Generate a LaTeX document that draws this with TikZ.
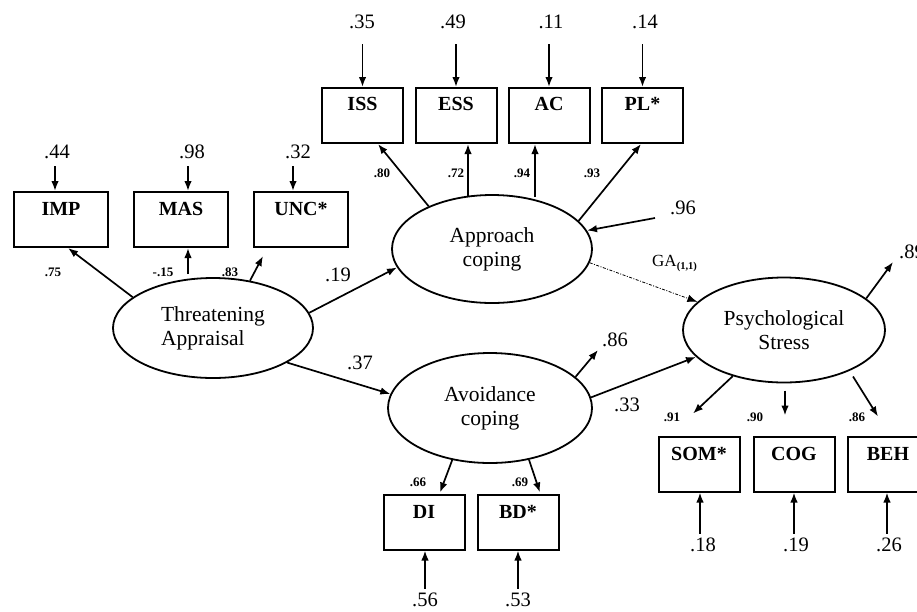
\documentclass[tikz,border=0pt]{standalone}
\usepackage{fontspec}
\setmainfont{Liberation Serif}
\usetikzlibrary{shapes.geometric, arrows.meta, calc}

\begin{document}
\begin{tikzpicture}[x=1pt, y=-1pt,
  obs/.style={draw, line width=2pt, minimum width=81pt, minimum height=55pt, inner sep=0pt},
  obswide/.style={obs, minimum width=94pt},
  lat/.style={draw, ellipse, line width=1.8pt, inner sep=0pt, align=center,
              font=\fontsize{21.5}{24}\selectfont},
  obslab/.style={font=\fontsize{20}{22}\selectfont\bfseries, inner sep=0pt},
  errlab/.style={font=\fontsize{20.5}{22}\selectfont, inner sep=0pt},
  loadlab/.style={font=\fontsize{13}{14}\selectfont\bfseries, inner sep=0pt},
  ar/.style={line width=1.7pt, -{Latex[length=10pt,width=7.5pt]}},
  dotar/.style={line width=0.8pt, dash pattern=on 3pt off 1.5pt on 1pt off 1.5pt,
                -{Latex[length=10pt,width=7.5pt]}}
]
\useasboundingbox (0,0) rectangle (917,611);
\clip (0,0) rectangle (917,611);

% ---------- observed boxes ----------
\node[obswide] (imp) at (61,219.5) {};
\node[obswide] (mas) at (181,219.5) {};
\node[obswide] (unc) at (301,219.5) {};
\node[obs] (iss) at (362.5,115.5) {};
\node[obs] (ess) at (456,115.5) {};
\node[obs] (ac)  at (549,115.5) {};
\node[obs] (pl)  at (642.5,115.5) {};
\node[obs] (di)  at (424,522) {};
\node[obs] (bd)  at (518,522) {};
\node[obs] (som) at (699,464) {};
\node[obs] (cog) at (794,464) {};
\node[obs] (beh) at (888,464) {};

\node[obslab] (impT) at ($(imp.north)+(0,18)$) {IMP};
\node[obslab] (masT) at ($(mas.north)+(0,18)$) {MAS};
\node[obslab] (uncT) at ($(unc.north)+(0,18)$) {UNC*};
\node[obslab] (issT) at ($(iss.north)+(0,17)$) {ISS};
\node[obslab] (essT) at ($(ess.north)+(0,17)$) {ESS};
\node[obslab] (acT)  at ($(ac.north)+(0,17)$) {AC};
\node[obslab] (plT)  at ($(pl.north)+(0,17)$) {PL*};
\node[obslab] (diT)  at ($(di.north)+(0,18)$) {DI};
\node[obslab] (bdT)  at ($(bd.north)+(0,18)$) {BD*};
\node[obslab] (somT) at ($(som.north)+(0,18)$) {SOM*};
\node[obslab] (cogT) at ($(cog.north)+(0,18)$) {COG};
\node[obslab] (behT) at ($(beh.north)+(0,18)$) {BEH};

% ---------- latent ellipses ----------
\node[lat, align=left, minimum width=200pt, minimum height=100pt] (thr) at (213,328) {Threatening\\Appraisal};
\node[lat, minimum width=200pt, minimum height=108pt] (app) at (492,249) {Approach\\coping};
\node[lat, minimum width=204pt, minimum height=110pt] (avo) at (490,408) {Avoidance\\coping};
\node[lat, minimum width=202pt, minimum height=105pt] (psy) at (784,330) {Psychological\\Stress};

% ---------- error terms (top rows) ----------
\node[errlab] (e44) at (57,152) {.44};
\node[errlab] (e98) at (192,152) {.98};
\node[errlab] (e32) at (298,152) {.32};
\draw[ar] ($(imp.north)+(-6,-25)$) -- ($(imp.north)+(-6,0)$);
\draw[ar] ($(mas.north)+(7,-25)$) -- ($(mas.north)+(7,0)$);
\draw[ar] ($(unc.north)+(-8,-25)$) -- ($(unc.north)+(-8,0)$);

\node[errlab] (e35) at (362,22) {.35};
\node[errlab] (e49) at (453,22) {.49};
\node[errlab] (e11) at (551,22) {.11};
\node[errlab] (e14) at (645,22) {.14};
\draw[ar] ($(iss.north)+(0,-43)$) -- (iss.north);
\draw[ar] ($(ess.north)+(0,-43)$) -- (ess.north);
\draw[ar] ($(ac.north)+(0,-43)$) -- (ac.north);
\draw[ar] ($(pl.north)+(0,-43)$) -- (pl.north);

% ---------- error terms (bottom rows) ----------
\node[errlab] (e56) at (425,600) {.56};
\node[errlab] (e53) at (518,600) {.53};
\draw[ar] ($(di.south)+(1,38)$) -- ($(di.south)+(1,0)$);
\draw[ar] ($(bd.south)+(0,38)$) -- (bd.south);

\node[errlab] (e18) at (703,545) {.18};
\node[errlab] (e19b) at (796,545) {.19};
\node[errlab] (e26) at (889,545) {.26};
\draw[ar] ($(som.south)+(1,41)$) -- ($(som.south)+(1,0)$);
\draw[ar] ($(cog.south)+(0,41)$) -- (cog.south);
\draw[ar] ($(beh.south)+(-1,41)$) -- ($(beh.south)+(-1,0)$);

% ---------- loadings: Threatening Appraisal ----------
\draw[ar] (thr.159.4) -- ($(imp.south)+(7,0)$);
\draw[ar] ($(mas.south)+(7,26)$) -- ($(mas.south)+(7,0)$);
\draw[ar] (thr.52) -- ($(unc.south)+(-38,8)$);
\node[loadlab] (l75) at (53,272) {.75};
\node[loadlab] (l15) at (163,272) {-.15};
\node[loadlab] (l83) at (230,272) {.83};

% ---------- loadings: Approach coping ----------
\draw[ar] (app.146.7) -- ($(iss.south)+(15.5,0)$);
\draw[ar] ($(ess.south)+(12,53)$) -- ($(ess.south)+(12,0)$);
\draw[ar] ($(ac.south)+(-14,53)$) -- ($(ac.south)+(-14,0)$);
\draw[ar] (app.18.8) -- ($(pl.south)+(-1.5,0)$);
\node[loadlab] (l80) at (382,173) {.80};
\node[loadlab] (l72) at (456,173) {.72};
\node[loadlab] (l94) at (522,173) {.94};
\node[loadlab] (l93) at (592,173) {.93};

% ---------- loadings: Avoidance coping ----------
\draw[ar] (avo.-126.2) -- ($(di.north)+(16,-1)$);
\draw[ar] (avo.-53) -- ($(bd.north)+(22,-1)$);
\node[loadlab] (l66) at (418,482) {.66};
\node[loadlab] (l69) at (520,482) {.69};

% ---------- loadings: Psychological Stress ----------
\draw[ar] (psy.-138.5) -- ($(som.north)+(-6,-22)$);
\draw[ar] ($(cog.north)+(-9,-45)$) -- ($(cog.north)+(-9,-20)$);
\draw[ar] ($(beh.north)+(-35,-59)$) -- ($(beh.north)+(-10,-19)$);
\node[loadlab] (l91) at (672,417) {.91};
\node[loadlab] (l90) at (755,417) {.90};
\node[loadlab] (l86b) at (857,417) {.86};

% ---------- structural paths ----------
\draw[ar] (thr.9.4) -- (app.191.7);
\draw[ar] (thr.-25.3) -- (avo.172.6);
\draw[ar] (avo.6.3) -- (psy.197.5);
\draw[dotar] (app.-8) -- (psy.162.9);
\node[errlab] (p19) at (338,275) {.19};
\node[errlab] (p37) at (360,363) {.37};
\node[errlab] (p33) at (627,405) {.33};
\node[inner sep=0pt, anchor=west, font=\fontsize{17}{18}\selectfont] (ga) at (652,263)
  {GA\raisebox{-3pt}{\fontsize{10.5}{11}\selectfont\bfseries (1,1)}};

% ---------- disturbances ----------
\coordinate (d96) at (655,218);
\coordinate (d86) at (598,350);
\coordinate (d89) at (893,262);
\draw[ar] (d96) -- (app.11.2);
\draw[ar] (avo.20.5) -- (d86);
\draw[ar] (psy.21) -- (d89);
\node[errlab] (r96) at (683,208) {.96};
\node[errlab] (r86) at (615,340) {.86};
\node[errlab, anchor=west] (r89) at (899,252) {.89};
\end{tikzpicture}
\end{document}
